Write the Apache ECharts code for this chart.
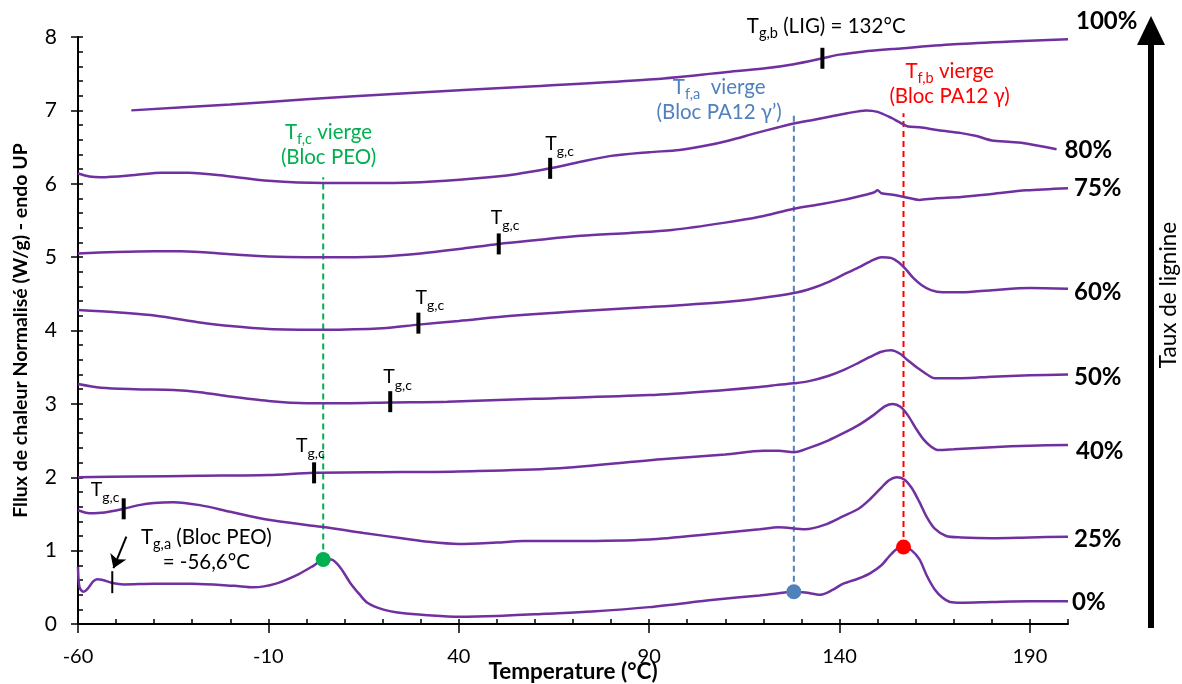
<!DOCTYPE html>
<html><head><meta charset="utf-8">
<script src="https://cdn.jsdelivr.net/npm/echarts@6/dist/echarts.min.js"></script>
<style>html,body{margin:0;padding:0;background:#fff}#c{width:1182px;height:684px}</style>
</head><body><div id="c"></div>
<script>
// ---- data ----
const xTickLabels = [-60, -10, 40, 90, 140, 190];
const c0 = [[-60,0.78],[-59.6,0.50],[-58.6,0.44],[-57.5,0.48],[-56,0.58],[-55,0.61],[-53.5,0.60],[-51,0.56],[-48,0.54],[-40,0.55],[-30,0.55],[-19,0.52],[-14,0.50],[-8,0.55],[-2,0.68],[2,0.80],[4.5,0.88],[6.5,0.88],[9,0.76],[11.5,0.56],[14,0.40],[16,0.29],[20,0.20],[25,0.15],[32,0.12],[40,0.10],[50,0.11],[63,0.14],[75,0.17],[90,0.23],[107,0.33],[119,0.39],[124,0.42],[128,0.44],[131,0.43],[135,0.40],[138,0.46],[141,0.55],[145,0.62],[148,0.69],[151,0.80],[153,0.92],[155,1.02],[157,1.05],[159,1.00],[161,0.88],[163,0.65],[165,0.47],[167,0.36],[169,0.30],[172,0.29],[180,0.30],[190,0.31],[200,0.31]];
const c25 = [[-60,1.55],[-57,1.51],[-53,1.52],[-48,1.57],[-44,1.62],[-40,1.65],[-35,1.66],[-28,1.62],[-20,1.53],[-10,1.42],[0,1.35],[5,1.32],[15,1.24],[25,1.17],[32,1.12],[40,1.09],[50,1.11],[57,1.13],[70,1.13],[90,1.15],[107,1.23],[119,1.29],[124,1.32],[131,1.29],[136,1.35],[141,1.47],[145,1.57],[148,1.70],[151,1.86],[153,1.96],[155,2.00],[157,1.97],[159,1.85],[161,1.66],[163,1.45],[165,1.30],[168,1.20],[172,1.18],[180,1.17],[190,1.18],[200,1.19]];
const c40 = [[-60,2.00],[-45,2.01],[-28,2.02],[-10,2.03],[2,2.06],[25,2.07],[40,2.08],[65,2.12],[94,2.25],[110,2.31],[120,2.36],[124,2.36],[128,2.34],[132,2.40],[137,2.50],[141,2.60],[145,2.71],[149,2.85],[152,2.97],[154,3.00],[156,2.96],[158,2.84],[160,2.67],[162,2.52],[164,2.42],[166,2.37],[170,2.38],[180,2.41],[190,2.43],[200,2.44]];
const c50 = [[-60,3.27],[-54,3.22],[-45,3.20],[-35,3.19],[-28,3.16],[-20,3.10],[-10,3.04],[0,3.01],[10,3.01],[22,3.02],[37,3.03],[60,3.07],[90,3.12],[110,3.19],[119,3.23],[124,3.26],[128,3.28],[132,3.31],[137,3.38],[141,3.46],[145,3.56],[148,3.64],[151,3.71],[153.5,3.73],[156,3.68],[158,3.59],[160.5,3.49],[163,3.40],[165,3.35],[172,3.35],[180,3.37],[190,3.39],[200,3.40]];
const c60 = [[-60,4.28],[-50,4.25],[-41,4.21],[-33,4.15],[-28,4.11],[-20,4.06],[-10,4.02],[4.5,4.01],[20,4.03],[29.4,4.08],[40,4.13],[54,4.20],[70,4.26],[90,4.32],[110,4.39],[119,4.44],[128,4.51],[133,4.58],[137,4.66],[141,4.76],[145,4.86],[148,4.94],[151,5.00],[153.5,4.99],[155.5,4.93],[157.5,4.83],[159.3,4.72],[161.5,4.62],[164,4.55],[167,4.52],[172,4.52],[180,4.55],[190,4.58],[200,4.57]];
const c75 = [[-60,5.05],[-50,5.07],[-40,5.08],[-33,5.08],[-20,5.04],[-10,5.01],[0,5.00],[10,5.00],[20,5.01],[30,5.05],[40,5.11],[50.5,5.18],[60,5.23],[72,5.29],[85,5.33],[96,5.37],[110,5.47],[119,5.55],[128,5.66],[135,5.72],[141,5.78],[146,5.84],[149,5.88],[150,5.91],[151,5.87],[154,5.85],[157,5.82],[161,5.78],[165,5.80],[172,5.82],[180,5.86],[189,5.91],[200,5.94]];
const c80 = [[-60,6.14],[-57,6.10],[-54,6.09],[-45,6.12],[-38,6.15],[-31,6.15],[-20,6.10],[-10,6.04],[4.5,6.01],[20,6.01],[30,6.02],[44,6.07],[55,6.13],[64,6.21],[72,6.30],[80,6.38],[90,6.43],[98,6.46],[105,6.52],[111,6.59],[118,6.69],[124,6.77],[128,6.82],[133,6.87],[137,6.91],[142,6.96],[147,7.00],[150,6.98],[153.5,6.90],[156,6.83],[158,6.78],[161,6.77],[166,6.73],[172,6.69],[176,6.65],[180,6.59],[185,6.57],[189,6.55],[197,6.47]];
const c100 = [[-46,7.00],[-20,7.08],[0,7.15],[25,7.23],[60,7.33],[90,7.42],[110,7.52],[120,7.57],[128,7.63],[135.5,7.71],[140,7.76],[146,7.80],[155,7.84],[170,7.90],[185,7.94],[200,7.97]];
const tgcMarks = [[64,6.21],[50.5,5.18],[29.4,4.10],[22,3.03],[2,2.06],[-48,1.57]];
const tgbMark = [135.5,7.71];
const tgaMark = [-51,0.57];
const tfcLine = [[4.4,0.88],[4.4,6.09]];
const tfaLine = [[128,0.44],[128,6.96]];
const tfbLine = [[156.8,1.05],[156.8,6.96]];
const tfcDot = [4.4,0.88];
const tfaDot = [128,0.44];
const tfbDot = [156.8,1.05];
const tgaArrow = [[-47.3,1.19],[-50.7,0.76]];

// ---- styles ----
const FONT = 'Lato, "Open Sans", sans-serif';
const PURPLE = '#7030A0', GREEN = '#00B050', BLUE = '#4F81BD', RED = '#FF0000';
const richFor = (color, big, small) => ({
  t: {fontSize: big, lineHeight: 25, color, fontFamily: FONT, verticalAlign: 'top'},
  s: {fontSize: small, lineHeight: 13, color, fontFamily: FONT, verticalAlign: 'bottom'}
});

function curve(name, data, off) {
  return {type: 'line', name, data, smooth: 0.3, symbol: 'none', clip: false, z: 3,
    lineStyle: {color: PURPLE, width: 2.5},
    endLabel: {show: true, formatter: name, fontFamily: FONT, fontWeight: 'bold', fontSize: 24,
      color: '#000', distance: 4, offset: off}};
}
function dashed(data, color) {
  return {type: 'line', data, symbol: 'none', z: 2, lineStyle: {color, width: 2, type: [6, 4]}};
}
function dot(p, color) {
  return {type: 'scatter', data: [p], symbolSize: 15, itemStyle: {color, opacity: 1}, z: 5};
}
const tgcLabelPos = [[-3,-24],[-6,-26],[-1,-25],[-5,-24],[-16,-27],[-31,-19]];
function annot(p, text, color) {
  return {type: 'scatter', clip: false, symbolSize: 1, itemStyle: {color: 'rgba(0,0,0,0)', opacity: 1}, z: 7,
    data: [p], label: {show: true, position: 'inside', align: 'center', verticalAlign: 'middle',
      formatter: text, rich: richFor(color, 20.5, 14.5)}};
}

const series = [
  curve('0%', c0, [0, 1]), curve('25%', c25, [2, 3]), curve('40%', c40, [4, 6]),
  curve('50%', c50, [2, 3]), curve('60%', c60, [2, 4]), curve('75%', c75, [2, 0]),
  curve('80%', c80, [4, 1]), curve('100%', c100, [4, -18]),
  dashed(tfcLine, GREEN), dashed(tfaLine, BLUE), dashed(tfbLine, RED),
  dot(tfcDot, GREEN), dot(tfaDot, BLUE), dot(tfbDot, RED),
  {type: 'scatter', symbol: 'rect', symbolSize: [4, 21], itemStyle: {color: '#000', opacity: 1}, z: 6,
    data: tgcMarks.map((p, i) => ({value: p, label: {show: true, position: tgcLabelPos[i],
      align: 'left', verticalAlign: 'top', formatter: '{t|T}{s|g,c}', rich: richFor('#000', 19.5, 14)}}))},
  {type: 'scatter', symbol: 'rect', symbolSize: [4, 21], itemStyle: {color: '#000', opacity: 1}, z: 6, data: [tgbMark]},
  {type: 'scatter', symbol: 'rect', symbolSize: [2, 22], itemStyle: {color: '#000', opacity: 1}, z: 6, data: [tgaMark]},
  annot([136.5, 8.12], '{t|T}{s|g,b}{t| (LIG) = 132°C}', '#000'),
  annot([5.8, 6.50], '{t|T}{s|f,c}{t| vierge}\n{t|(Bloc PEO)}', GREEN),
  annot([108.4, 7.11], '{t|T}{s|f,a}{t|  vierge}\n{t|(Bloc PA12 γ’)}', BLUE),
  annot([168.9, 7.33], '{t|T}{s|f,b}{t| vierge}\n{t|(Bloc PA12 γ)}', RED),
  annot([-26.3, 0.98], '{t|T}{s|g,a}{t| (Bloc PEO)}\n{t|= -56,6°C}', '#000'),
  {type: 'lines', coordinateSystem: 'cartesian2d', z: 6, symbol: ['none', 'arrow'], symbolSize: 13,
    lineStyle: {color: '#000', width: 2, opacity: 1}, data: [{coords: tgaArrow}]}
];

const chart = echarts.init(document.getElementById('c'));
chart.setOption({
  animation: false,
  textStyle: {fontFamily: FONT},
  grid: {left: 78, right: 114, top: 37, bottom: 60, containLabel: false, outerBoundsMode: 'none'},
  xAxis: [
    {type: 'value', min: -60, max: 200, interval: 10, position: 'bottom',
      axisLine: {onZero: false, lineStyle: {color: '#000', width: 2}},
      axisTick: {inside: true, length: 5, lineStyle: {color: '#000', width: 1.5}},
      axisLabel: {fontSize: 20, color: '#000', margin: 23, fontFamily: FONT,
        formatter: v => xTickLabels.includes(v) ? String(v) : ''},
      splitLine: {show: false},
      name: 'Temperature (°C)', nameLocation: 'middle', nameGap: 36, nameMoveOverlap: false,
      nameTextStyle: {fontSize: 22.5, fontWeight: 'bold', color: '#000', fontFamily: FONT}},
    {type: 'value', min: -60, max: 200, position: 'bottom',
      axisLine: {show: false, onZero: false},
      axisTick: {show: true, inside: false, length: 9, customValues: xTickLabels, lineStyle: {color: '#000', width: 1.5}},
      axisLabel: {show: false}, splitLine: {show: false}}
  ],
  yAxis: [
    {type: 'value', min: 0, max: 8, interval: 1, position: 'left',
      axisLine: {show: true, onZero: false, lineStyle: {color: '#000', width: 2}},
      axisTick: {show: true, inside: true, length: 5, lineStyle: {color: '#000', width: 1.5}},
      minorTick: {show: true, splitNumber: 5, length: 5, lineStyle: {color: '#000', width: 1.5}},
      axisLabel: {fontSize: 21, color: '#000', margin: 21, fontFamily: FONT},
      splitLine: {show: false},
      name: 'Fllux de chaleur Normalisé (W/g) - endo UP', nameLocation: 'middle', nameGap: 47, nameRotate: 90,
      nameTextStyle: {fontSize: 19.5, fontWeight: 'bold', color: '#000', fontFamily: FONT}},
    {type: 'value', min: 0, max: 8, interval: 1, position: 'left',
      axisLine: {show: false, onZero: false},
      axisTick: {show: true, inside: false, length: 7, lineStyle: {color: '#000', width: 1.5}},
      axisLabel: {show: false}, splitLine: {show: false}}
  ],
  graphic: [
    {type: 'rect', shape: {x: 1148, y: 40, width: 6, height: 588}, style: {fill: '#000'}},
    {type: 'polygon', shape: {points: [[1151, 16], [1137, 45], [1165, 45]]}, style: {fill: '#000'}},
    {type: 'text', x: 1169, y: 295, rotation: Math.PI / 2,
      style: {text: 'Taux de lignine', fontSize: 22.5, fontFamily: FONT, fill: '#000',
        align: 'center', verticalAlign: 'middle', textAlign: 'center', textVerticalAlign: 'middle'}}
  ],
  series
});
</script>
</body></html>
